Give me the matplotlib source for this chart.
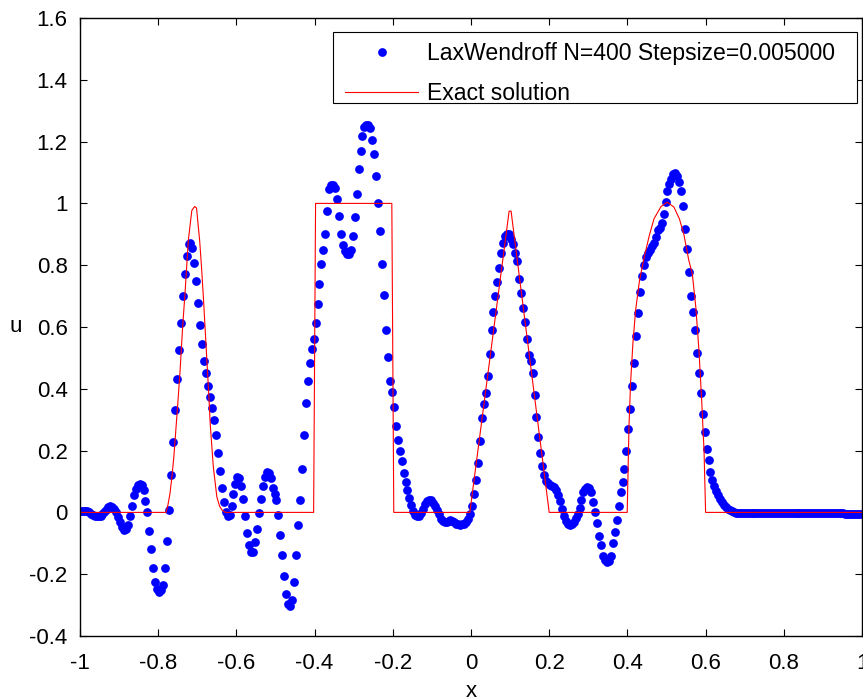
import numpy as np
import matplotlib
matplotlib.use("Agg")
import matplotlib.pyplot as plt
from matplotlib.patches import Rectangle

# Lax-Wendroff solution, N=400 cells, dx=0.005 (left to right)
u_left = [0.004, 0.005, 0.005, 0.003, 0.000, -0.004, -0.008, -0.011, -0.013, -0.013,
          -0.011, -0.006, 0.001, 0.009, 0.016, 0.020, 0.019, 0.012, 0.000, -0.015,
          -0.032, -0.047, -0.057, -0.055, -0.040, -0.012, 0.022, 0.055, 0.076, 0.088]
u_dip = [0.093, 0.090, 0.072, 0.038, 0.000, -0.060, -0.119, -0.179, -0.226, -0.248,
         -0.258, -0.252, -0.236, -0.179, -0.094, 0.008]
u_gauss = [0.122, 0.227, 0.332, 0.431, 0.524, 0.613, 0.700, 0.770, 0.831, 0.868,
           0.872, 0.857, 0.807, 0.749, 0.677, 0.607, 0.544, 0.490, 0.450, 0.408,
           0.373, 0.338, 0.298, 0.251, 0.192, 0.133, 0.080, 0.033, 0.000]
u_wiggle = [-0.012, -0.008, 0.020, 0.058, 0.092, 0.113, 0.110, 0.085, 0.044, -0.013,
            -0.067, -0.107, -0.128, -0.127, -0.097, -0.055, -0.001, 0.044, 0.085, 0.115,
            0.130, 0.128, 0.110, 0.080, 0.060, 0.039, -0.008, -0.072, -0.137, -0.206,
            -0.265, -0.298, -0.302, -0.285, -0.225, -0.137, -0.040]
u_square = [0.040, 0.140, 0.250, 0.355, 0.425, 0.484, 0.530, 0.561, 0.612, 0.675,
            0.740, 0.805, 0.850, 0.900, 0.975, 1.045, 1.060, 1.058, 1.050, 1.015,
            0.959, 0.900, 0.866, 0.845, 0.835, 0.835, 0.850, 0.895, 0.955, 1.030,
            1.111, 1.169, 1.219, 1.248, 1.255, 1.255, 1.245, 1.205, 1.160, 1.090,
            1.000, 0.910, 0.805, 0.705, 0.591, 0.503, 0.425, 0.390, 0.340]
u_mid = [0.280, 0.235, 0.200, 0.165, 0.128, 0.097, 0.072, 0.048, 0.025, 0.005,
         -0.008, -0.013, -0.011, -0.002, 0.012, 0.027, 0.036, 0.040, 0.039, 0.032,
         0.022, 0.008, -0.006, -0.020, -0.028, -0.032, -0.031, -0.028, -0.026, -0.027,
         -0.031, -0.036, -0.039, -0.040, -0.039, -0.036, -0.030, -0.020, -0.005, 0.020,
         0.060, 0.105, 0.160, 0.230, 0.305, 0.350, 0.386, 0.440, 0.513, 0.590,
         0.650, 0.700, 0.745, 0.790, 0.840, 0.872, 0.893, 0.900, 0.900, 0.885,
         0.870, 0.841, 0.812, 0.755, 0.710, 0.662, 0.615, 0.560, 0.510, 0.490,
         0.450, 0.380, 0.308, 0.244, 0.192, 0.150, 0.120, 0.103, 0.095, 0.088,
         0.085, 0.082, 0.072, 0.055, 0.038, 0.010, -0.012, -0.028, -0.038, -0.042,
         -0.038, -0.030, -0.018, -0.004, 0.015, 0.040, 0.065, 0.077, 0.083, 0.080,
         0.065, 0.035, 0.000, -0.035, -0.075, -0.105, -0.140, -0.155, -0.162, -0.158,
         -0.140, -0.100, -0.062, -0.025, 0.020, 0.065, 0.100, 0.140, 0.200, 0.270,
         0.335, 0.410, 0.485, 0.570, 0.645, 0.713, 0.765, 0.800, 0.826, 0.838,
         0.850, 0.862, 0.872, 0.890, 0.913, 0.922, 0.935, 0.967, 1.005, 1.040,
         1.062, 1.080, 1.096, 1.098, 1.090, 1.068, 1.040, 0.990, 0.917, 0.853,
         0.777, 0.701, 0.650, 0.590, 0.515, 0.450, 0.385, 0.320, 0.260, 0.205,
         0.168, 0.132, 0.105, 0.085, 0.068, 0.055, 0.043, 0.033, 0.024, 0.017,
         0.011, 0.007, 0.003, 0.001, -0.001]
u_right = [-0.002, -0.002, -0.003, -0.003, -0.003, -0.003, -0.003, -0.003, -0.003, -0.003,
           -0.003, -0.003, -0.003, -0.003, -0.003, -0.003, -0.003, -0.003, -0.003, -0.003,
           -0.003, -0.003, -0.003, -0.003, -0.003, -0.003, -0.003, -0.003, -0.003, -0.003,
           -0.003, -0.003, -0.003, -0.003, -0.003, -0.003, -0.003, -0.003, -0.003, -0.003,
           -0.003, -0.003, -0.003, -0.003, -0.003, -0.003, -0.003, -0.003, -0.003, -0.003,
           -0.003, -0.003, -0.003, -0.003, -0.003, -0.004, -0.004, -0.004, -0.004, -0.004,
           -0.005, -0.005, -0.005, -0.006]

# exact solution, drawn as a polyline through the points
exact_x = [-1.0, -0.780, -0.775, -0.770, -0.765, -0.760, -0.755, -0.750, -0.744, -0.738,
           -0.731, -0.723, -0.714, -0.707, -0.702, -0.694, -0.689, -0.684, -0.676, -0.671,
           -0.667, -0.659, -0.650, -0.643, -0.637, -0.628,
           -0.4025, -0.3975, -0.2025, -0.1975,
           -0.003, 0.0975, 0.1025, 0.200,
           0.3995, 0.404, 0.408, 0.414, 0.421, 0.431, 0.443, 0.456, 0.468, 0.486,
           0.502, 0.519, 0.533, 0.544, 0.557, 0.566, 0.575, 0.583, 0.590, 0.596,
           0.600, 1.0]
exact_u = [0.0, 0.0, 0.025, 0.060, 0.114, 0.180, 0.265, 0.350, 0.460, 0.590,
           0.718, 0.880, 0.977, 0.990, 0.985, 0.880, 0.790, 0.686, 0.503, 0.390,
           0.287, 0.147, 0.050, 0.020, 0.008, 0.0,
           0.0, 1.0, 1.0, 0.0,
           0.0, 0.975, 0.975, 0.0,
           0.0, 0.276, 0.416, 0.546, 0.654, 0.751, 0.826, 0.896, 0.950, 0.990,
           1.004, 0.988, 0.950, 0.902, 0.816, 0.772, 0.664, 0.524, 0.362, 0.200,
           0.0, 0.0]

x_ticks = [-1, -0.8, -0.6, -0.4, -0.2, 0, 0.2, 0.4, 0.6, 0.8, 1]
x_labels = ["-1", "-0.8", "-0.6", "-0.4", "-0.2", "0", "0.2", "0.4", "0.6", "0.8", "1"]
y_ticks = [-0.4, -0.2, 0, 0.2, 0.4, 0.6, 0.8, 1.0, 1.2, 1.4, 1.6]
y_labels = ["-0.4", "-0.2", "0", "0.2", "0.4", "0.6", "0.8", "1", "1.2", "1.4", "1.6"]


def main():
    plt.rcParams["font.family"] = ["Liberation Sans", "DejaVu Sans"]
    plt.rcParams["axes.unicode_minus"] = False

    u = np.array(u_left + u_dip + u_gauss + u_wiggle + u_square + u_mid + u_right)
    x = -1 + 0.005 * (np.arange(len(u)) + 0.5)  # cell centres

    fig = plt.figure(figsize=(8.63, 7.0), dpi=100)
    ax = fig.add_axes([80 / 863, 64 / 700, 782 / 863, 618 / 700])

    ax.plot(x, u, "o", color="#0000ff", markersize=6.3, markeredgewidth=0,
            label="LaxWendroff N=400 Stepsize=0.005000")
    ax.plot(exact_x, exact_u, "-", color="#ff0000", linewidth=0.8, label="Exact solution")

    ax.set_xlim(-1, 1)
    ax.set_ylim(-0.4, 1.6)
    ax.set_xticks(x_ticks)
    ax.set_xticklabels(x_labels)
    ax.set_yticks(y_ticks)
    ax.set_yticklabels(y_labels)
    ax.tick_params(direction="in", top=True, right=True, length=5, width=0.8,
                   labelsize=16, pad=9)
    ax.tick_params(axis="x", pad=12)
    for s in ax.spines.values():
        s.set_linewidth(1.0)

    ax.set_xlabel("x", fontsize=16, labelpad=5)
    ax.set_ylabel("u", fontsize=16, rotation=0, labelpad=10, va="center")

    # MATLAB-style legend box: white frame drawn separately, entries placed inside it
    box = Rectangle((0.3235, 0.8625), 0.6701, 0.1149, transform=ax.transAxes,
                    facecolor="white", edgecolor="black", linewidth=0.8, zorder=4)
    ax.add_patch(box)
    leg = ax.legend(loc="upper left", bbox_to_anchor=(0.3389, 0.9612), borderaxespad=0,
                    fontsize=16.6, handlelength=3.17, handletextpad=0.39, borderpad=0,
                    labelspacing=0.72, frameon=False)
    leg.set_zorder(5)

    fig.savefig("out.png", dpi=100)


if __name__ == "__main__":
    main()
